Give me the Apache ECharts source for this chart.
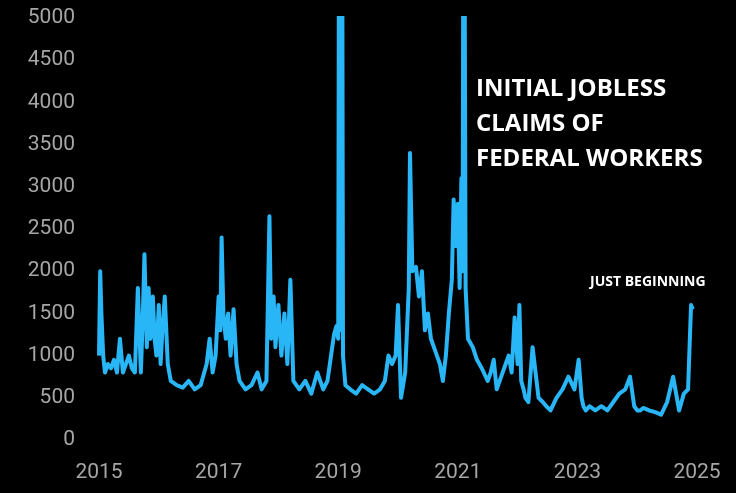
<!DOCTYPE html>
<html><head><meta charset="utf-8">
<script src="https://cdn.jsdelivr.net/npm/echarts@6/dist/echarts.min.js"></script>
<style>html,body{margin:0;background:#000}#c{width:736px;height:493px}</style></head>
<body><div id="c"></div>
<script>
const years = [2015.0,2015.02,2015.04,2015.07,2015.1,2015.15,2015.2,2015.25,2015.3,2015.35,2015.4,2015.45,2015.5,2015.55,2015.6,2015.65,2015.7,2015.73,2015.76,2015.8,2015.83,2015.86,2015.9,2015.93,2015.96,2016.0,2016.03,2016.06,2016.1,2016.15,2016.2,2016.3,2016.4,2016.5,2016.6,2016.7,2016.8,2016.85,2016.9,2016.95,2017.0,2017.03,2017.05,2017.08,2017.12,2017.16,2017.2,2017.25,2017.3,2017.35,2017.45,2017.55,2017.65,2017.72,2017.8,2017.85,2017.88,2017.92,2017.95,2018.0,2018.05,2018.1,2018.15,2018.2,2018.25,2018.35,2018.45,2018.55,2018.65,2018.75,2018.82,2018.88,2018.93,2018.97,2019.0,2019.02,2019.04,2019.06,2019.08,2019.12,2019.2,2019.3,2019.4,2019.5,2019.6,2019.7,2019.78,2019.84,2019.9,2019.96,2020.0,2020.05,2020.12,2020.18,2020.2,2020.24,2020.3,2020.35,2020.4,2020.45,2020.5,2020.55,2020.6,2020.65,2020.7,2020.75,2020.8,2020.85,2020.9,2020.93,2020.96,2021.0,2021.03,2021.06,2021.08,2021.1,2021.13,2021.17,2021.25,2021.32,2021.4,2021.5,2021.55,2021.6,2021.65,2021.7,2021.8,2021.85,2021.9,2021.95,2022.0,2022.03,2022.06,2022.1,2022.13,2022.18,2022.25,2022.35,2022.42,2022.45,2022.48,2022.55,2022.65,2022.75,2022.85,2022.95,2023.02,2023.07,2023.1,2023.14,2023.2,2023.3,2023.4,2023.5,2023.6,2023.7,2023.8,2023.88,2023.95,2024.0,2024.05,2024.1,2024.2,2024.3,2024.4,2024.5,2024.6,2024.7,2024.78,2024.85,2024.9,2024.93,2024.96,2025.0,2025.03,2025.06,2025.09];
const claims = [1000,2000,1500,1000,800,900,850,950,800,1200,800,900,1000,850,800,1800,800,1400,2200,1100,1800,1200,1700,1200,1000,1600,900,1300,1700,900,700,650,620,700,600,650,900,1200,800,1000,1700,1300,2400,1500,1200,1500,1000,1550,900,700,600,650,800,600,700,2650,1200,1700,1100,1600,1000,1500,900,1900,700,600,700,550,800,600,700,1000,1250,1350,1200,9000,1300,9000,1000,650,600,550,650,600,550,600,700,1000,900,1000,1600,500,800,1800,3400,2000,2050,1700,2000,1300,1500,1200,1100,1000,900,700,1000,1500,1900,2850,2300,2800,1800,3100,2000,9000,1800,1200,1100,950,850,700,800,950,600,700,900,1000,800,1450,900,1600,700,600,500,450,1100,500,450,450,400,350,500,600,750,600,950,500,400,350,400,350,400,350,450,550,600,750,400,350,350,380,350,330,300,450,750,350,550,600,1600,1550];
const yTicks = [0,500,1000,1500,2000,2500,3000,3500,4000,4500,5000];
const data = years.map((y,i)=>[y,claims[i]]);
const ch = echarts.init(document.getElementById('c'));
ch.setOption({
  backgroundColor:'#000',animation:false,
  grid:{left:99,right:27,top:18,bottom:53,containLabel:false},
  xAxis:{type:'value',min:2015,max:2025.2,interval:2,axisLine:{show:false},axisTick:{show:false},splitLine:{show:false},
    axisLabel:{color:'#a6a6a6',fontSize:21,fontFamily:'Roboto',margin:22,formatter:v=>String(v)}},
  yAxis:{type:'value',min:0,max:5000,interval:500,axisLine:{show:false},axisTick:{show:false},splitLine:{show:false},
    axisLabel:{color:'#a6a6a6',fontSize:21,fontFamily:'Roboto',margin:24,formatter:v=>String(v)}},
  series:[{type:'line',data:data,showSymbol:false,clip:true,lineStyle:{color:'#29b6f6',width:4,join:'round'}}],
  graphic:[
    {type:'text',left:476,top:72,style:{text:'INITIAL JOBLESS\nCLAIMS OF\nFEDERAL WORKERS',fill:'#fff',font:'bold 24px "Open Sans"',lineHeight:35}},
    {type:'text',left:590,top:275,style:{text:'JUST BEGINNING',fill:'#fff',font:'bold 14px "Open Sans"'}}
  ]
});
</script></body></html>
